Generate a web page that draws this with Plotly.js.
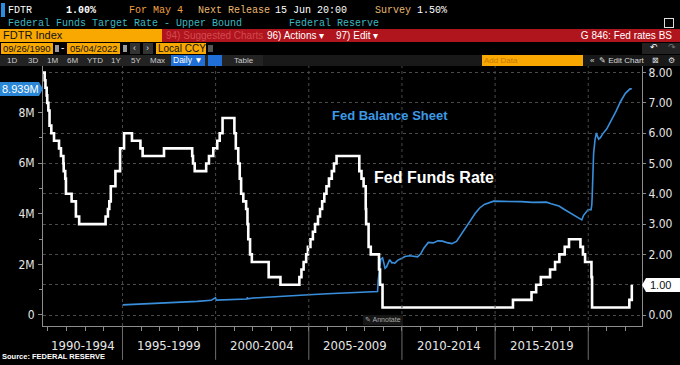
<!DOCTYPE html>
<html><head><meta charset="utf-8">
<script src="https://cdn.plot.ly/plotly-3.0.1.min.js"></script>
<style>
html,body{margin:0;padding:0;background:#000;width:680px;height:365px;overflow:hidden;}
#chart{position:absolute;left:0;top:0;width:680px;height:365px;}
.m{position:absolute;white-space:nowrap;font-family:"Liberation Mono","DejaVu Sans Mono",monospace;font-size:10px;line-height:13px;}
.s{position:absolute;white-space:nowrap;font-family:"Liberation Sans","Arial",sans-serif;}
.box{position:absolute;}
</style></head><body>
<div id="chart"></div>

<!-- header row 1 -->
<div class="box" style="left:1px;top:3px;width:4px;height:14px;background:#2a8de0"></div>
<div class="m" style="left:8px;top:4px;color:#fff">FDTR</div>
<div class="m" style="left:66px;top:4px;color:#fff;font-weight:bold">1.00%</div>
<div class="m" style="left:129px;top:4px;color:#f0a040">For May 4</div>
<div class="m" style="left:198px;top:4px;color:#e8b870">Next Release</div>
<div class="m" style="left:275px;top:4px;color:#fff">15 Jun 20:00</div>
<div class="m" style="left:375px;top:4px;color:#e8b870">Survey</div>
<div class="m" style="left:417px;top:4px;color:#fff">1.50%</div>
<!-- header row 2 -->
<div class="m" style="left:8px;top:17px;color:#3cb8c0">Federal Funds Target Rate - Upper Bound</div>
<div class="m" style="left:289px;top:17px;color:#3cb8c0">Federal Reserve</div>
<div class="box" style="left:664px;top:18px;width:8px;height:8px;border:1px solid #ddd"></div>
<!-- row 3 -->
<div class="box" style="left:0;top:29px;width:162px;height:13px;background:#f8a800"></div>
<div class="s" style="left:3px;top:29px;font-size:11px;line-height:13px;color:#111">FDTR Index</div>
<div class="box" style="left:162px;top:29px;width:518px;height:13px;background:#b0141c"></div>
<div class="s" style="left:166px;top:29px;font-size:10px;line-height:13px;color:#d24a50">94) Suggested Charts</div>
<div class="s" style="left:267px;top:29px;font-size:10px;line-height:13px;color:#fff">96) Actions ▾</div>
<div class="s" style="left:336px;top:29px;font-size:10px;line-height:13px;color:#fff">97) Edit ▾</div>
<div class="s" style="right:8px;top:29px;font-size:10px;line-height:13px;color:#fff">G 846: Fed rates BS</div>
<!-- row 4 -->
<div class="box" style="left:1px;top:43px;width:52px;height:11px;background:#f8a800"></div>
<div class="s" style="left:3px;top:43px;color:#111;font-size:9.5px;line-height:11px">09/26/1990</div>
<div class="box" style="left:55px;top:45px;width:4px;height:7px;background:#999"></div>
<div class="s" style="left:61px;top:42px;color:#fff;font-size:10px;line-height:12px">-</div>
<div class="box" style="left:67px;top:43px;width:53px;height:11px;background:#f8a800"></div>
<div class="s" style="left:70px;top:43px;color:#111;font-size:9.5px;line-height:11px">05/04/2022</div>
<div class="box" style="left:123px;top:45px;width:4px;height:7px;background:#999"></div>
<div class="box" style="left:130px;top:43px;width:10px;height:11px;background:#333"></div>
<div class="box" style="left:143px;top:43px;width:10px;height:11px;background:#333"></div>
<div class="s" style="left:133px;top:43px;font-size:9px;line-height:11px;color:#ddd">‹</div>
<div class="s" style="left:146px;top:43px;font-size:9px;line-height:11px;color:#ddd">›</div>
<div class="box" style="left:156px;top:43px;width:50px;height:11px;background:#f8a800"></div>
<div class="s" style="left:158px;top:43px;font-size:10px;line-height:11px;color:#111">Local CCY</div>
<div class="box" style="left:208px;top:45px;width:5px;height:7px;background:#555"></div>
<div class="box" style="left:642px;top:43px;width:38px;height:11px;background:#222"></div>
<div class="s" style="left:650px;top:42px;font-size:9px;line-height:11px;color:#fff">↶</div>
<div class="s" style="left:668px;top:42px;font-size:9px;line-height:11px;color:#777">↷</div>
<!-- row 5 -->
<div class="box" style="left:0;top:55px;width:263px;height:11px;background:#232323"></div>
<div class="box" style="left:263px;top:55px;width:417px;height:11px;background:#191919"></div>
<div class="s" style="left:7px;top:55px;font-size:8px;line-height:11px;color:#ccc">1D</div>
<div class="s" style="left:28px;top:55px;font-size:8px;line-height:11px;color:#ccc">3D</div>
<div class="s" style="left:47px;top:55px;font-size:8px;line-height:11px;color:#ccc">1M</div>
<div class="s" style="left:67px;top:55px;font-size:8px;line-height:11px;color:#ccc">6M</div>
<div class="s" style="left:87px;top:55px;font-size:8px;line-height:11px;color:#ccc">YTD</div>
<div class="s" style="left:111px;top:55px;font-size:8px;line-height:11px;color:#ccc">1Y</div>
<div class="s" style="left:131px;top:55px;font-size:8px;line-height:11px;color:#ccc">5Y</div>
<div class="s" style="left:150px;top:55px;font-size:8px;line-height:11px;color:#ccc">Max</div>
<div class="box" style="left:171px;top:55px;width:34px;height:11px;background:#1f6fd6"></div>
<div class="s" style="left:173px;top:55px;font-size:8.5px;line-height:11px;color:#fff">Daily ▼</div>
<div class="box" style="left:208px;top:55px;width:14px;height:11px;background:#1f6fd6"></div>
<div class="s" style="left:234px;top:55px;font-size:8px;line-height:11px;color:#ccc">Table</div>
<div class="box" style="left:482px;top:55px;width:101px;height:11px;background:#f8a800"></div>
<div class="s" style="left:484px;top:55px;font-size:8px;line-height:11px;color:#c87800">Add Data</div>
<div class="s" style="left:590px;top:55px;font-size:8px;line-height:11px;color:#ddd">«</div>
<div class="s" style="left:599px;top:55px;font-size:8px;line-height:11px;color:#ddd">✎ Edit Chart</div>
<div class="s" style="left:652px;top:55px;font-size:8px;line-height:11px;color:#ddd">⊠</div>
<div class="s" style="left:668px;top:55px;font-size:8px;line-height:11px;color:#ddd">⚙</div>

<!-- value labels -->
<div class="box" style="left:0;top:82px;width:39px;height:14px;background:#2a86d6"></div>
<div class="box" style="left:39px;top:82px;width:0;height:0;border-top:7px solid transparent;border-bottom:7px solid transparent;border-left:4px solid #2a86d6"></div>
<div class="s" style="left:2px;top:82px;font-size:11px;line-height:14px;color:#fff">8.939M</div>
<div class="box" style="left:646px;top:278px;width:34px;height:14px;background:#fff"></div>
<div class="box" style="left:642px;top:278px;width:0;height:0;border-top:7px solid transparent;border-bottom:7px solid transparent;border-right:4px solid #fff"></div>
<div class="s" style="left:650px;top:278px;font-size:11px;line-height:14px;color:#111">1.00</div>
<!-- annotate button & source -->
<div class="box" style="left:363px;top:315px;width:40px;height:10px;background:#161616"></div>
<div class="s" style="left:365px;top:315px;font-size:7px;line-height:10px;color:#aaa">✎ Annotate</div>
<div class="s" style="left:2px;top:352px;font-size:7.5px;line-height:10px;color:#fff;font-weight:bold">Source: FEDERAL RESERVE</div>

<script>
// Federal funds target rate (upper bound), %
const ffDates = ['1990-09-26','1990-10-29','1990-11-13','1990-12-07','1990-12-18','1991-01-09','1991-02-01','1991-03-08','1991-04-30','1991-08-06','1991-09-13','1991-10-31','1991-11-06','1991-12-06','1991-12-20','1992-04-09','1992-07-02','1992-09-04','1994-02-04','1994-03-22','1994-04-18','1994-05-17','1994-08-16','1994-11-15','1995-02-01','1995-07-06','1995-12-19','1996-01-31','1997-03-25','1998-09-29','1998-10-15','1998-11-17','1999-06-30','1999-08-24','1999-11-16','2000-02-02','2000-03-21','2000-05-16','2001-01-03','2001-01-31','2001-03-20','2001-04-18','2001-05-15','2001-06-27','2001-08-21','2001-09-17','2001-10-02','2001-11-06','2001-12-11','2002-11-06','2003-06-25','2004-06-30','2004-08-10','2004-09-21','2004-11-10','2004-12-14','2005-02-02','2005-03-22','2005-05-03','2005-06-30','2005-08-09','2005-09-20','2005-11-01','2005-12-13','2006-01-31','2006-03-28','2006-05-10','2006-06-29','2007-09-18','2007-10-31','2007-12-11','2008-01-22','2008-01-30','2008-03-18','2008-04-30','2008-10-08','2008-10-29','2008-12-16','2015-12-17','2016-12-15','2017-03-16','2017-06-15','2017-12-14','2018-03-22','2018-06-14','2018-09-27','2018-12-20','2019-08-01','2019-09-19','2019-10-31','2020-03-04','2020-03-16','2022-03-17','2022-05-04'];
const ffRates = [8.00,7.75,7.50,7.25,7.00,6.75,6.25,6.00,5.75,5.50,5.25,5.00,4.75,4.50,4.00,3.75,3.25,3.00,3.25,3.50,3.75,4.25,4.75,5.50,6.00,5.75,5.50,5.25,5.50,5.25,5.00,4.75,5.00,5.25,5.50,5.75,6.00,6.50,6.00,5.50,5.00,4.50,4.00,3.75,3.50,3.00,2.50,2.00,1.75,1.25,1.00,1.25,1.50,1.75,2.00,2.25,2.50,2.75,3.00,3.25,3.50,3.75,4.00,4.25,4.50,4.75,5.00,5.25,4.75,4.50,4.25,3.50,3.00,2.25,2.00,1.50,1.00,0.25,0.50,0.75,1.00,1.25,1.50,1.75,2.00,2.25,2.50,2.25,2.00,1.75,1.25,0.25,0.50,1.00];

// Fed balance sheet, millions of $ millions (M)
const bsDates = ['1995-01-04','1996-01-03','1997-01-01','1998-01-07','1999-01-06','1999-10-06','1999-12-29','2000-01-12','2001-01-03','2001-09-05','2001-09-12','2001-09-19','2002-01-02','2003-01-01','2004-01-07','2005-01-05','2006-01-04','2007-01-03','2007-08-01','2008-01-02','2008-08-27','2008-09-10','2008-09-24','2008-10-08','2008-10-29','2008-11-12','2008-12-17','2009-01-14','2009-02-04','2009-03-04','2009-04-01','2009-05-06','2009-06-17','2009-07-08','2009-08-12','2009-10-07','2009-12-30','2010-03-03','2010-06-02','2010-09-01','2010-11-03','2011-01-05','2011-03-02','2011-06-01','2011-09-07','2011-12-07','2012-03-07','2012-06-06','2012-09-05','2012-12-05','2013-03-06','2013-06-05','2013-09-04','2013-12-04','2014-03-05','2014-06-04','2014-09-03','2014-12-03','2015-06-03','2016-01-06','2016-06-01','2017-01-04','2017-06-07','2017-10-04','2018-01-03','2018-06-06','2018-09-05','2019-01-02','2019-05-01','2019-08-28','2019-10-02','2019-12-31','2020-02-26','2020-03-11','2020-03-18','2020-03-25','2020-04-01','2020-04-15','2020-05-13','2020-06-10','2020-06-24','2020-07-22','2020-08-26','2020-10-07','2020-12-30','2021-03-31','2021-06-30','2021-09-29','2021-12-29','2022-03-30','2022-05-04'];
const bsValues = [0.40,0.43,0.46,0.50,0.54,0.58,0.68,0.59,0.62,0.63,0.70,0.64,0.67,0.72,0.76,0.80,0.84,0.87,0.88,0.89,0.90,0.93,1.40,1.60,1.96,2.21,2.26,2.07,1.85,1.90,2.07,2.19,2.06,2.07,2.04,2.16,2.24,2.31,2.34,2.30,2.30,2.42,2.63,2.87,2.85,2.93,2.92,2.86,2.82,2.91,3.17,3.45,3.73,4.01,4.23,4.37,4.45,4.50,4.49,4.49,4.48,4.45,4.47,4.46,4.40,4.31,4.19,4.05,3.92,3.76,3.94,4.17,4.16,4.36,4.67,5.25,5.81,6.37,6.93,7.20,7.09,6.95,7.01,7.15,7.36,7.69,8.06,8.45,8.76,8.94,8.939];

// axis labels
const periodStarts = ['1990-09-26','1995-01-01','2000-01-01','2005-01-01','2010-01-01','2015-01-01'];
const periodEnds   = ['1995-01-01','2000-01-01','2005-01-01','2010-01-01','2015-01-01','2020-01-01'];
const periodLabels = ['1990-1994','1995-1999','2000-2004','2005-2009','2010-2014','2015-2019'];
const separators = ['1995-01-01','2000-01-01','2005-01-01','2010-01-01','2015-01-01','2020-01-01'];
const leftTicks = [0,2,4,6,8];
const leftTickText = ['0','2M','4M','6M','8M'];
const rightTicks = [0,1,2,3,4,5,6,7,8];
// the 1.00 tick label is hidden behind the last-value box, so it is left blank
const rightTickText = ['0.00','','2.00','3.00','4.00','5.00','6.00','7.00','8.00'];

const tickFont = {family:'"Liberation Sans Narrow","Arial Narrow","DejaVu Sans Condensed",sans-serif', size:12, color:'#e6e6e6'};
const axCol = '#8c8c8c';

function mid(a,b){const t=(new Date(a).getTime()+new Date(b).getTime())/2;return new Date(t).toISOString().slice(0,10);}

const shapes = [];
separators.forEach(d=>{
  shapes.push({type:'line',xref:'x',yref:'paper',x0:d,x1:d,y0:0,y1:1,line:{color:'#4a4a4a',width:1,dash:'dot'}});
  shapes.push({type:'line',xref:'x',yref:'paper',x0:d,x1:d,y0:-0.13,y1:0,line:{color:'#6e6e6e',width:1}});
});

const annotations = periodLabels.map((t,i)=>({xref:'x',yref:'paper',x:mid(periodStarts[i],periodEnds[i]),y:-0.076,text:t,showarrow:false,xanchor:'center',yanchor:'middle',font:{family:tickFont.family,size:13,color:'#e6e6e6'}}));
annotations.push({xref:'paper',yref:'paper',x:0.479,y:0.808,xanchor:'left',yanchor:'middle',text:'<b>Fed Balance Sheet</b>',showarrow:false,font:{family:'"Liberation Sans",Arial,sans-serif',size:13,color:'#3b9ae6'}});
annotations.push({xref:'paper',yref:'paper',x:0.549,y:0.573,xanchor:'left',yanchor:'middle',text:'<b>Fed Funds Rate</b>',showarrow:false,font:{family:'"Liberation Sans",Arial,sans-serif',size:16,color:'#ffffff'}});

const traces = [
  {x:bsDates,y:bsValues,type:'scatter',mode:'lines',yaxis:'y',line:{color:'#3a8fdc',width:1.6},hoverinfo:'skip'},
  {x:ffDates,y:ffRates,type:'scatter',mode:'lines',yaxis:'y2',line:{color:'#ffffff',width:2.6,shape:'hv'},hoverinfo:'skip'}
];

const layout = {
  width:680,height:365,paper_bgcolor:'#000',plot_bgcolor:'#000',showlegend:false,
  margin:{l:43,r:38,t:66,b:39,pad:0},
  xaxis:{type:'date',range:['1990-09-26','2022-11-20'],showgrid:false,zeroline:false,showline:true,linecolor:axCol,linewidth:1,
    tickmode:'linear',tick0:'1990-01-01',dtick:'M12',ticks:'outside',ticklen:4,tickcolor:axCol,showticklabels:false},
  yaxis:{range:[-0.435,9.842],tickmode:'array',tickvals:leftTicks,ticktext:leftTickText,ticks:'outside',ticklen:4,tickcolor:axCol,
    showgrid:false,zeroline:false,showline:true,linecolor:axCol,tickfont:tickFont,ticklabelstandoff:1,
    minor:{tickmode:'linear',tick0:1,dtick:2,ticks:'outside',ticklen:3,tickcolor:axCol,showgrid:false}},
  yaxis2:{overlaying:'y',side:'right',range:[-0.363,8.218],tickmode:'array',tickvals:rightTicks,ticktext:rightTickText,ticks:'outside',ticklen:3,tickcolor:axCol,
    showgrid:true,gridcolor:'#4a4a4a',griddash:'dot',gridwidth:1,zeroline:false,showline:true,linecolor:axCol,tickfont:tickFont},
  shapes:shapes,annotations:annotations
};
Plotly.newPlot('chart',traces,layout,{staticPlot:true,displayModeBar:false});
</script>
</body></html>
